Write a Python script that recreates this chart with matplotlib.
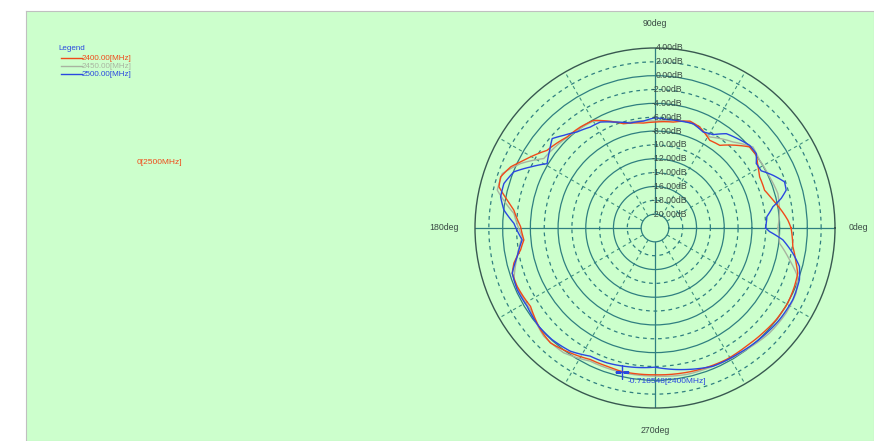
import numpy as np
import matplotlib.pyplot as plt
from matplotlib.lines import Line2D

plt.rcParams['font.family'] = ['Liberation Sans', 'DejaVu Sans']

# ---- data (angle in deg, gain in dB) ----
ang_2400 = [0, 3.4, 8.1, 13.3, 19, 26, 30.7, 35.7, 40.6, 45.5, 51.9, 58, 66.1, 71.9, 80.2,
            90, 96.3, 106.8, 114.2, 119.7, 126.5, 134, 144.3, 152.7, 157.1, 161.7, 165.2,
            169.3, 172.8, 179.4, 185.2, 189.3, 194, 197.6, 203, 212.2, 221.6, 227.7, 235.9,
            243.8, 250.8, 257.1, 261.6, 270, 279.7, 287.6, 298.5, 307.7, 315.8, 322.9,
            330.5, 337.3, 342.4, 346, 352.3]
db_2400 = [-2.34, -2.78, -3.59, -4.5, -5.26, -5.18, -4.71, -3.99, -4.0, -5.25, -6.83, -7.07,
           -6.05, -5.76, -6.47, -6.7, -6.75, -6.27, -5.06, -4.1, -3.86, -3.72, -2.79, -0.68,
           0.65, 1.49, 1.31, -0.28, -1.45, -2.58, -2.98, -2.32, -0.99, -0.37, -0.38, -0.75,
           0.12, 0.44, -0.21, -0.83, -0.87, -0.72, -0.76, -0.8, -0.69, -0.57, -0.39, -0.43,
           -0.26, -0.05, 0.03, -0.16, -0.37, -0.99, -1.91]

ang_2450 = [0, 8.2, 15.7, 24, 32.9, 39.6, 47.8, 59, 71.8, 90, 106.8, 119.9, 132.4, 148,
            154.4, 160.4, 166.5, 174.1, 183.7, 191.7, 200.2, 213.3, 224.2, 233.8, 244,
            257.7, 270, 282.2, 292.8, 306.9, 317.5, 327, 335.2, 341.2, 346.7, 353]
db_2450 = [-4.25, -3.83, -3.57, -3.88, -4.0, -3.64, -5.23, -6.66, -5.89, -6.56, -6.2, -4.19,
           -3.87, -3.06, -0.46, 1.42, 1.43, -1.51, -2.78, -1.67, -0.29, -0.49, 0.42, 0.34,
           -0.61, -0.6, -0.61, -0.36, -0.35, -0.04, 0.44, 0.58, 0.45, -0.22, -2.04, -3.88]

ang_2500 = [0, 5.8, 10.2, 13.2, 16.1, 19.6, 24.1, 28.3, 32.5, 36.3, 41.1, 46.2, 52.9, 58.1,
            63.4, 69.9, 76.9, 83.9, 90, 96.2, 103.4, 111.4, 117.3, 122.7, 129.1, 134.6, 139,
            143.6, 149.2, 153.9, 158.3, 163.6, 168.6, 173.2, 178.1, 185.1, 191.7, 197.6,
            204.1, 211.5, 220.2, 227.3, 235.5, 243.2, 250.3, 257.1, 270, 282.6, 292.8,
            304.1, 314.9, 323.6, 332.5, 340.3, 345.1, 349.6, 354.7, 358.2]
db_2500 = [-6.03, -5.76, -4.7, -3.28, -2.28, -2.14, -3.34, -4.58, -4.66, -3.85, -3.85, -4.33,
           -4.92, -6.12, -6.49, -5.96, -6.14, -6.23, -6.08, -6.47, -6.42, -5.57, -4.78, -4.68,
           -4.13, -3.21, -2.32, -3.1, -3.85, -1.97, -0.06, 0.75, 0.75, -0.02, -1.61, -2.74,
           -1.67, -0.37, -0.19, -0.34, -0.01, -0.07, -0.41, -1.26, -1.32, -1.53, -1.9, -1.06,
           -0.35, -0.21, 0.08, 0.33, 0.44, 0.16, -0.41, -1.76, -3.45, -5.44]

series_names = ['2400.00[MHz]', '2450.00[MHz]', '2500.00[MHz]']
series_colors = ['#f04a1a', '#a8b4a0', '#2a48e0']

ring_levels = [4, 2, 0, -2, -4, -6, -8, -10, -12, -14, -16, -18, -20]
marker_angle = 257.1
marker_db = -0.718548

W, H = 874, 441


def fx(x):
    return x / W


def fy(y):
    return 1 - y / H


fig = plt.figure(figsize=(W / 100, H / 100), dpi=100)
fig.patch.set_facecolor('white')

# green panel behind everything
bg = fig.add_axes([fx(26), 0, 1 - fx(26), fy(11)])
bg.set_facecolor('#ccffcc')
bg.set_xticks([])
bg.set_yticks([])
for s in bg.spines.values():
    s.set_color('#c0c0c0')
    s.set_linewidth(0.8)

# polar plot, center at (655, 228) px, radius 180 px
ax = fig.add_axes([fx(475), fy(408), 360 / W, 360 / H], projection='polar')
ax.set_facecolor('none')
ax.set_ylim(-20, 4)
ax.set_rorigin(-22)
ax.set_thetagrids(np.arange(0, 360, 30), labels=[''] * 12)
ax.set_rgrids(ring_levels[1:-1], labels=[''] * (len(ring_levels) - 2))
ax.tick_params(length=0)

for lvl, gl in zip(ring_levels[1:-1], ax.yaxis.get_gridlines()):
    gl.set_color('#2f7f80')
    gl.set_linewidth(0.9)
    gl.set_linestyle('-' if lvl % 4 == 0 else (0, (3, 3)))
for a, gl in zip(np.arange(0, 360, 30), ax.xaxis.get_gridlines()):
    if a % 90 == 0:
        gl.set_color('#2f7f80')
        gl.set_linewidth(0.9)
        gl.set_linestyle('-')
    else:
        gl.set_color('#3f9080')
        gl.set_linewidth(0.8)
        gl.set_linestyle((0, (3, 3)))
ax.spines['polar'].set_color('#385850')
ax.spines['polar'].set_linewidth(1.0)
ax.spines['inner'].set_color('#2f7f80')
ax.spines['inner'].set_linewidth(0.9)

# ring labels along 90 deg
for lvl in ring_levels:
    ax.annotate(f'{lvl:.2f}dB', xy=(np.pi / 2, lvl), xytext=(-3 if lvl < 0 else 1, 0),
                textcoords='offset pixels', ha='left', va='center',
                fontsize=6.3, color='#3a4a44')

# angle labels
for a, txt, r in [(90, '90deg', 7.6), (270, '270deg', 7.3), (180, '180deg', 8.5), (0, '0deg', 7.4)]:
    ax.text(np.radians(a), r, txt, ha='center', va='center', fontsize=6.3, color='#3a4a44')

# curves (polar path interpolation so segments follow the angle)
for ang, db, c in zip([ang_2450, ang_2400, ang_2500], [db_2450, db_2400, db_2500],
                      [series_colors[1], series_colors[0], series_colors[2]]):
    th = np.radians(ang + [ang[0] + 360])
    ln, = ax.plot(th, db + [db[0]], color=c, lw=1.0)
    ln.get_path()._interpolation_steps = 12

# marker
ax.plot(np.radians(marker_angle), marker_db, marker='+', ms=10, mew=1.0, color='#2a48e0')
ax.annotate(f'{marker_db:.6f}[2400MHz]', xy=(np.radians(marker_angle), marker_db),
            xytext=(6, -10), textcoords='offset pixels', ha='left', va='center',
            fontsize=6.0, color='#2a48e0')

# legend
fig.text(fx(58), fy(49), 'Legend', ha='left', va='center', fontsize=5.8, color='#2a48e0')
for i, (name, c) in enumerate(zip(series_names, series_colors)):
    y = 58 + 8 * i
    fig.add_artist(Line2D([fx(61), fx(82)], [fy(y), fy(y)], color=c, lw=1.0))
    fig.text(fx(82), fy(y), name, ha='left', va='center', fontsize=5.8, color=c)

fig.text(fx(137), fy(162), '0[2500MHz]', ha='left', va='center', fontsize=6.0, color='#f04a1a')

fig.savefig('out.png', dpi=100, facecolor=fig.get_facecolor())
